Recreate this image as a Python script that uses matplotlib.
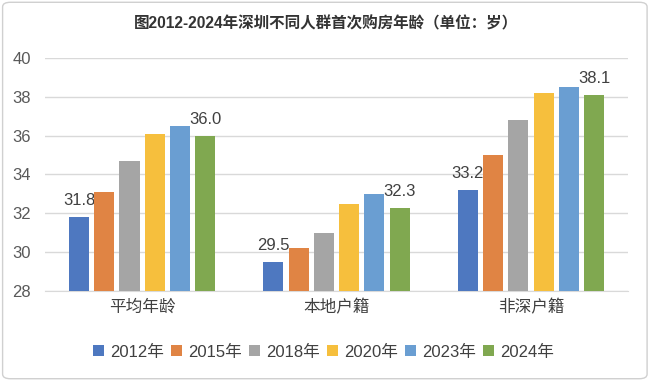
import matplotlib
matplotlib.use('Agg')
import matplotlib.pyplot as plt
from matplotlib.patches import FancyBboxPatch
import numpy as np

plt.rcParams['font.family'] = ['Liberation Sans', 'Noto Sans CJK SC']

categories = ['平均年龄', '本地户籍', '非深户籍']
years = ['2012年', '2015年', '2018年', '2020年', '2023年', '2024年']
values = {
    '2012年': [31.8, 29.5, 33.2],
    '2015年': [33.1, 30.2, 35.0],
    '2018年': [34.7, 31.0, 36.8],
    '2020年': [36.1, 32.5, 38.2],
    '2023年': [36.5, 33.0, 38.5],
    '2024年': [36.0, 32.3, 38.1],
}
labelled = ['2012年', '2024年']
colors = ['#4E78C0', '#E08444', '#A5A5A5', '#F6BF3D', '#6A9ED2', '#80A850']

fig = plt.figure(figsize=(6.51, 3.81), dpi=100)
ax = fig.add_axes([0.069, 0.236, 0.896, 0.612])

x = np.arange(len(categories))
step, width = 0.13, 0.103
for i, yr in enumerate(years):
    pos = x + (i - 2.5) * step
    bars = ax.bar(pos, values[yr], width=width, color=colors[i], label=yr, zorder=3)
    if yr in labelled:
        for b, v in zip(bars, values[yr]):
            ax.annotate(f'{v:.1f}', (b.get_x() + b.get_width() / 2, v),
                        xytext=(0, 6.5), textcoords='offset points',
                        ha='center', va='bottom', fontsize=12, color='#404040')

ax.set_ylim(28, 40)
ax.set_xlim(-0.5, 2.5)
ax.set_yticks(np.arange(28, 41, 2))
ax.set_xticks(x)
ax.set_xticklabels(categories, fontsize=12, color='#404040')
ax.tick_params(axis='y', labelsize=12, labelcolor='#595959', length=0, pad=10)
ax.tick_params(axis='x', length=0, pad=6)
ax.grid(axis='y', color='#D9D9D9', linewidth=1, zorder=0)
for s in ['top', 'right', 'left']:
    ax.spines[s].set_visible(False)
ax.spines['bottom'].set_color('#D9D9D9')

fig.text(0.5, 0.937, '图2012-2024年深圳不同人群首次购房年龄（单位：岁）',
         ha='center', va='center', fontsize=11.2, fontweight='bold', color='#333333')

fig.legend(loc='center', bbox_to_anchor=(0.497, 0.076), ncol=6, frameon=False,
           fontsize=12, handlelength=0.65, handleheight=0.65, columnspacing=0.45,
           handletextpad=0.35, labelcolor='#404040')

border = FancyBboxPatch((0.004, 0.006), 0.99, 0.988, boxstyle='round,pad=0,rounding_size=0.012',
                        transform=fig.transFigure, fill=False, edgecolor='#D0D0D0', linewidth=1)
fig.patches.append(border)

fig.savefig('out.png', dpi=100)
